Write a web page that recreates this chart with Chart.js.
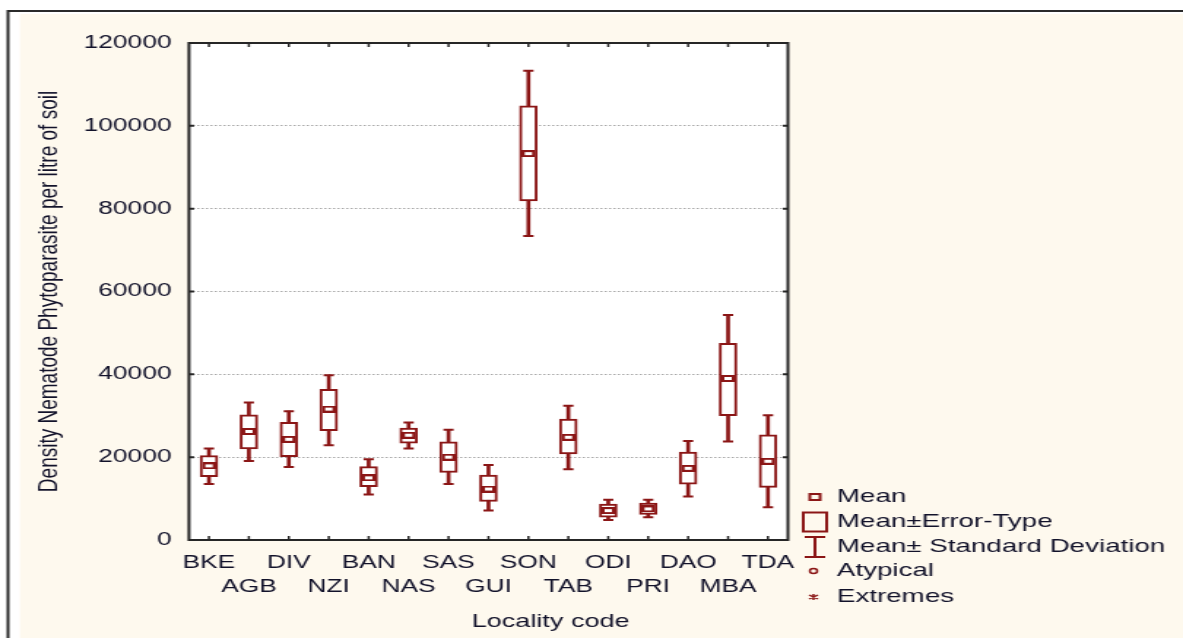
<!DOCTYPE html>
<html><head><meta charset="utf-8">
<script src="https://cdn.jsdelivr.net/npm/chart.js@4.4.1/dist/chart.umd.min.js"></script>
<style>
html,body{margin:0;padding:0;background:#fff;overflow:hidden}
</style></head>
<body>
<canvas id="c" width="810" height="638" style="display:block;width:1183px;height:638px"></canvas>
<script>
// ---- data ----
const categories = ['BKE','AGB','DIV','NZI','BAN','NAS','SAS','GUI','SON','TAB','ODI','PRI','DAO','MBA','TDA'];
const meanValues = [17900, 26200, 24300, 31600, 15000, 25300, 20000, 12300, 93300, 24800, 7100, 7500, 17300, 39000, 19000];
const seHigh     = [20400, 30200, 28400, 36400, 17700, 27000, 23700, 15700, 104800, 29200, 8700, 8900, 21200, 47500, 25400];
const seLow      = [15300, 22000, 20100, 26400, 12900, 23400, 16300, 9300, 81900, 20800, 5500, 6200, 13500, 30000, 12700];
const sdHigh     = [22100, 33200, 31100, 39800, 19500, 28400, 26600, 18100, 113300, 32400, 9700, 9700, 23900, 54300, 30100];
const sdLow      = [13500, 19100, 17600, 22900, 11000, 22100, 13500, 7100, 73400, 17100, 4800, 5500, 10500, 23800, 7900];
const yTicks     = [0, 20000, 40000, 60000, 80000, 100000, 120000];
const yTitle = 'Density Nematode Phytoparasite per litre of soil';
const xTitle = 'Locality code';
const legendItems = ['Mean', 'Mean\u00b1Error-Type', 'Mean\u00b1 Standard Deviation', 'Atypical', 'Extremes'];

// ---- styles ----
const RED = '#8b1616';
const TXT = '#12122a';
const FONT = "'Liberation Sans', Arial, sans-serif";

// mean marker image
const meanImg = document.createElement('canvas');
meanImg.width = 9; meanImg.height = 7;
(function(){
  const g = meanImg.getContext('2d');
  g.fillStyle = '#fff'; g.fillRect(0,0,9,7);
  g.strokeStyle = RED; g.lineWidth = 2; g.strokeRect(1,1,7,5);
})();

const deco = {
  id: 'deco',
  beforeDraw(chart) {
    const ctx = chart.ctx, W = chart.width, H = chart.height, a = chart.chartArea;
    ctx.save();
    ctx.fillStyle = '#ffffff'; ctx.fillRect(0, 0, W, H);
    ctx.fillStyle = '#fef9ee'; ctx.fillRect(13.7, 14, W, H);
    ctx.strokeStyle = '#2a2a2a'; ctx.lineWidth = 2;
    ctx.beginPath(); ctx.moveTo(5.5, H); ctx.lineTo(5.5, 11); ctx.lineTo(W, 11); ctx.stroke();
    ctx.fillStyle = '#ffffff'; ctx.fillRect(a.left, a.top, a.right - a.left, a.bottom - a.top);
    ctx.restore();
  },
  afterDraw(chart) {
    const ctx = chart.ctx, a = chart.chartArea;
    const xs = chart.scales.x, ys = chart.scales.y;
    ctx.save();
    // frame
    ctx.strokeStyle = '#262626'; ctx.lineWidth = 2;
    ctx.strokeRect(a.left, a.top, a.right - a.left, a.bottom - a.top);
    // inward ticks
    ctx.lineWidth = 1.5;
    ctx.beginPath();
    categories.forEach((c, i) => {
      const x = xs.getPixelForValue(i);
      ctx.moveTo(x, a.bottom); ctx.lineTo(x, a.bottom - 4);
      ctx.moveTo(x, a.top); ctx.lineTo(x, a.top + 4);
    });
    ctx.stroke();
    ctx.lineWidth = 2;
    ctx.beginPath();
    yTicks.forEach(v => {
      const y = ys.getPixelForValue(v);
      ctx.moveTo(a.left, y); ctx.lineTo(a.left + 3.5, y);
      ctx.moveTo(a.right, y); ctx.lineTo(a.right - 3.5, y);
    });
    ctx.stroke();
    // x title
    ctx.fillStyle = TXT;
    ctx.font = '18.5px ' + FONT;
    ctx.textAlign = 'center'; ctx.textBaseline = 'middle';
    ctx.fillText(xTitle, 377, 622);
    // legend
    ctx.font = '19px ' + FONT;
    const lx = 558, tx = 573;
    const rows = [497, 522, 547, 571, 597];
    ctx.textAlign = 'left';
    legendItems.forEach((t, i) => ctx.fillText(t, tx, rows[i]));
    ctx.strokeStyle = RED; ctx.fillStyle = RED;
    ctx.lineWidth = 2;
    ctx.strokeRect(lx - 3.5, rows[0] - 3, 7, 6);
    ctx.strokeRect(lx - 8, rows[1] - 9.5, 16, 19);
    ctx.beginPath();
    ctx.moveTo(lx - 7, rows[2] - 10); ctx.lineTo(lx + 7, rows[2] - 10);
    ctx.moveTo(lx, rows[2] - 10); ctx.lineTo(lx, rows[2] + 10);
    ctx.moveTo(lx - 7, rows[2] + 10); ctx.lineTo(lx + 7, rows[2] + 10);
    ctx.stroke();
    ctx.lineWidth = 1.5;
    ctx.beginPath(); ctx.arc(lx - 1, rows[3], 2.5, 0, Math.PI * 2); ctx.stroke();
    ctx.beginPath();
    ctx.moveTo(lx - 4, rows[4] - 2); ctx.lineTo(lx + 2, rows[4] + 2);
    ctx.moveTo(lx - 4, rows[4] + 2); ctx.lineTo(lx + 2, rows[4] - 2);
    ctx.moveTo(lx - 1, rows[4] - 3); ctx.lineTo(lx - 1, rows[4] + 3);
    ctx.stroke();
    ctx.restore();
  }
};

new Chart(document.getElementById('c'), {
  type: 'bar',
  data: {
    labels: categories,
    datasets: [
      { type: 'line', label: 'Mean', data: meanValues, showLine: false, order: 0,
        pointStyle: meanImg, pointRadius: 4, pointHoverRadius: 4 },
      { type: 'line', label: 'SD high', data: sdHigh, showLine: false, order: 1,
        pointStyle: 'line', pointRadius: 3.5, pointBorderWidth: 2, pointBorderColor: RED, borderColor: RED },
      { type: 'line', label: 'SD low', data: sdLow, showLine: false, order: 1,
        pointStyle: 'line', pointRadius: 3.5, pointBorderWidth: 2, pointBorderColor: RED, borderColor: RED },
      { type: 'bar', label: 'Mean\u00b1Error-Type', data: seLow.map((v, i) => [v, seHigh[i]]), order: 2,
        grouped: false, barThickness: 12, backgroundColor: '#ffffff', borderColor: RED, borderWidth: 2, borderSkipped: false },
      { type: 'bar', label: 'Mean\u00b1SD', data: sdLow.map((v, i) => [v, sdHigh[i]]), order: 3,
        grouped: false, barThickness: 2, backgroundColor: RED, borderWidth: 0 }
    ]
  },
  options: {
    responsive: false, animation: false, devicePixelRatio: 1,
    events: [],
    layout: { padding: { left: 0, right: 270.5, top: 43, bottom: 0 } },
    plugins: { legend: { display: false }, tooltip: { enabled: false } },
    scales: {
      x: {
        offset: true,
        grid: { display: false, drawTicks: false },
        border: { display: false },
        ticks: {
          autoSkip: false, maxRotation: 0, minRotation: 0, padding: 12, color: TXT,
          font: { family: FONT, size: 18, lineHeight: 1.28 },
          callback: (v, i) => (i % 2 === 0 ? categories[i] : ['', categories[i]])
        },
        afterFit: s => { s.height = 98; }
      },
      y: {
        min: 0, max: 120000,
        afterBuildTicks: s => { s.ticks = yTicks.map(v => ({ value: v })); },
        grid: { color: '#a8a8a8', lineWidth: 1, drawTicks: false },
        border: { display: false, dash: [1.5, 1.5] },
        ticks: { padding: 12, color: TXT, font: { family: FONT, size: 18 }, callback: v => String(v) },
        title: { display: true, text: yTitle, color: TXT, font: { family: FONT, size: 19 }, padding: { top: 22, bottom: 0 } },
        afterFit: s => { s.width = 129.4; }
      }
    }
  },
  plugins: [deco]
});
</script>
</body></html>
